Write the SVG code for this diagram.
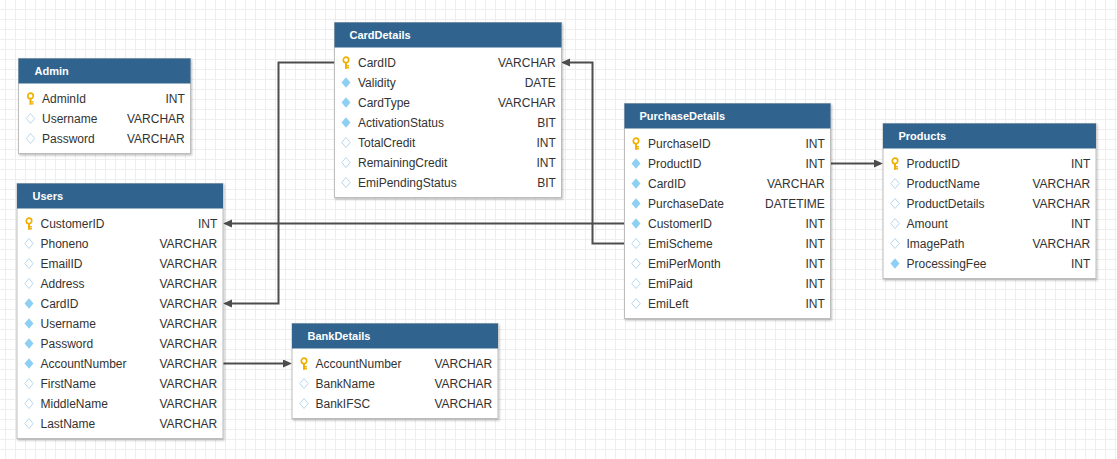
<svg xmlns="http://www.w3.org/2000/svg" xmlns:xlink="http://www.w3.org/1999/xlink" width="1117" height="459" viewBox="0 0 1117 459">
<style>
.hdr{fill:#30648f}
.box{fill:#ffffff;stroke:#bdbdbd;stroke-width:1}
.ttl{font-family:"Liberation Sans",Arial,sans-serif;font-size:11px;font-weight:bold;fill:#ffffff}
.f{font-family:"Liberation Sans",Arial,sans-serif;font-size:12px;fill:#333333}
.t{font-family:"Liberation Sans",Arial,sans-serif;font-size:12px;fill:#333333;text-anchor:end}
.conn{fill:none;stroke:#4d4d4d;stroke-width:2;marker-end:url(#arr)}
</style>
<defs>
<pattern id="grid" x="5" y="9" width="10" height="10" patternUnits="userSpaceOnUse">
<rect x="0" y="0" width="1" height="10" fill="#eeeeee"/>
<rect x="0" y="0" width="10" height="1" fill="#eeeeee"/>
</pattern>
<filter id="sh" x="-5%" y="-5%" width="112%" height="112%">
<feDropShadow dx="1" dy="1.5" stdDeviation="1" flood-color="#000" flood-opacity="0.25"/>
</filter>
<marker id="arr" markerUnits="userSpaceOnUse" markerWidth="10" markerHeight="10" refX="1" refY="4" orient="auto">
<path d="M0,0 L9,4 L0,8 Z" fill="#4d4d4d"/>
</marker>
<g id="key">
<circle cx="0" cy="-2.6" r="2.7" fill="none" stroke="#f0b000" stroke-width="1.7"/>
<rect x="-1" y="0" width="2" height="6.3" fill="#f0b000"/>
<rect x="1" y="2.6" width="2" height="1.4" fill="#f0b000"/>
<rect x="1" y="4.6" width="2" height="1.4" fill="#f0b000"/>
</g>
<path id="fk" d="M0,-5.3 L4.5,0 L0,5.3 L-4.5,0 Z" fill="#8dd0f4"/>
<path id="col" d="M0,-5 L4.2,0 L0,5 L-4.2,0 Z" fill="#ffffff" stroke="#b8d8ef" stroke-width="1"/>
</defs>
<rect x="0" y="0" width="1117" height="459" fill="#ffffff"/>
<rect x="0" y="0" width="1117" height="459" fill="url(#grid)"/>

<g id="connectors">
<path class="conn" d="M334,62.5 H278.5 V303.5 H231"/>
<path class="conn" d="M624,243.5 H592.5 V62.5 H569"/>
<path class="conn" d="M624,223.5 H231"/>
<path class="conn" d="M830,163.5 H875"/>
<path class="conn" d="M223,363.5 H284"/>
</g>

<g id="Admin">
<rect class="box" x="18.5" y="58.5" width="172" height="95" filter="url(#sh)"/>
<rect class="hdr" x="18.5" y="58.5" width="172" height="25"/>
<text class="ttl" x="34.5" y="75">Admin</text>
<use href="#key" x="30.5" y="98.5"/><text class="f" x="42" y="102.5">AdminId</text><text class="t" x="184.8" y="102.5">INT</text>
<use href="#col" x="30.5" y="118.5"/><text class="f" x="42" y="122.5">Username</text><text class="t" x="184.8" y="122.5">VARCHAR</text>
<use href="#col" x="30.5" y="138.5"/><text class="f" x="42" y="142.5">Password</text><text class="t" x="184.8" y="142.5">VARCHAR</text>
</g>

<g id="CardDetails">
<rect class="box" x="334.5" y="22.5" width="227" height="175" filter="url(#sh)"/>
<rect class="hdr" x="334.5" y="22.5" width="227" height="25"/>
<text class="ttl" x="349.5" y="39">CardDetails</text>
<use href="#key" x="346" y="62.5"/><text class="f" x="358" y="66.5">CardID</text><text class="t" x="555.8" y="66.5">VARCHAR</text>
<use href="#fk" x="346" y="82.5"/><text class="f" x="358" y="86.5">Validity</text><text class="t" x="555.8" y="86.5">DATE</text>
<use href="#fk" x="346" y="102.5"/><text class="f" x="358" y="106.5">CardType</text><text class="t" x="555.8" y="106.5">VARCHAR</text>
<use href="#fk" x="346" y="122.5"/><text class="f" x="358" y="126.5">ActivationStatus</text><text class="t" x="555.8" y="126.5">BIT</text>
<use href="#col" x="346" y="142.5"/><text class="f" x="358" y="146.5">TotalCredit</text><text class="t" x="555.8" y="146.5">INT</text>
<use href="#col" x="346" y="162.5"/><text class="f" x="358" y="166.5">RemainingCredit</text><text class="t" x="555.8" y="166.5">INT</text>
<use href="#col" x="346" y="182.5"/><text class="f" x="358" y="186.5">EmiPendingStatus</text><text class="t" x="555.8" y="186.5">BIT</text>
</g>

<g id="PurchaseDetails">
<rect class="box" x="624.5" y="103.5" width="206" height="215" filter="url(#sh)"/>
<rect class="hdr" x="624.5" y="103.5" width="206" height="25"/>
<text class="ttl" x="639.5" y="120">PurchaseDetails</text>
<use href="#key" x="636" y="143.5"/><text class="f" x="648" y="147.5">PurchaseID</text><text class="t" x="824.8" y="147.5">INT</text>
<use href="#fk" x="636" y="163.5"/><text class="f" x="648" y="167.5">ProductID</text><text class="t" x="824.8" y="167.5">INT</text>
<use href="#fk" x="636" y="183.5"/><text class="f" x="648" y="187.5">CardID</text><text class="t" x="824.8" y="187.5">VARCHAR</text>
<use href="#fk" x="636" y="203.5"/><text class="f" x="648" y="207.5">PurchaseDate</text><text class="t" x="824.8" y="207.5">DATETIME</text>
<use href="#fk" x="636" y="223.5"/><text class="f" x="648" y="227.5">CustomerID</text><text class="t" x="824.8" y="227.5">INT</text>
<use href="#col" x="636" y="243.5"/><text class="f" x="648" y="247.5">EmiScheme</text><text class="t" x="824.8" y="247.5">INT</text>
<use href="#col" x="636" y="263.5"/><text class="f" x="648" y="267.5">EmiPerMonth</text><text class="t" x="824.8" y="267.5">INT</text>
<use href="#col" x="636" y="283.5"/><text class="f" x="648" y="287.5">EmiPaid</text><text class="t" x="824.8" y="287.5">INT</text>
<use href="#col" x="636" y="303.5"/><text class="f" x="648" y="307.5">EmiLeft</text><text class="t" x="824.8" y="307.5">INT</text>
</g>

<g id="Products">
<rect class="box" x="883" y="123.5" width="213" height="155" filter="url(#sh)"/>
<rect class="hdr" x="883" y="123.5" width="213" height="25"/>
<text class="ttl" x="898.5" y="140">Products</text>
<use href="#key" x="895" y="163.5"/><text class="f" x="906.5" y="167.5">ProductID</text><text class="t" x="1090.3" y="167.5">INT</text>
<use href="#col" x="895" y="183.5"/><text class="f" x="906.5" y="187.5">ProductName</text><text class="t" x="1090.3" y="187.5">VARCHAR</text>
<use href="#col" x="895" y="203.5"/><text class="f" x="906.5" y="207.5">ProductDetails</text><text class="t" x="1090.3" y="207.5">VARCHAR</text>
<use href="#col" x="895" y="223.5"/><text class="f" x="906.5" y="227.5">Amount</text><text class="t" x="1090.3" y="227.5">INT</text>
<use href="#col" x="895" y="243.5"/><text class="f" x="906.5" y="247.5">ImagePath</text><text class="t" x="1090.3" y="247.5">VARCHAR</text>
<use href="#fk" x="895" y="263.5"/><text class="f" x="906.5" y="267.5">ProcessingFee</text><text class="t" x="1090.3" y="267.5">INT</text>
</g>

<g id="Users">
<rect class="box" x="17" y="183.5" width="206" height="255" filter="url(#sh)"/>
<rect class="hdr" x="17" y="183.5" width="206" height="25"/>
<text class="ttl" x="32.5" y="200">Users</text>
<use href="#key" x="29" y="223.5"/><text class="f" x="40.5" y="227.5">CustomerID</text><text class="t" x="217.3" y="227.5">INT</text>
<use href="#col" x="29" y="243.5"/><text class="f" x="40.5" y="247.5">Phoneno</text><text class="t" x="217.3" y="247.5">VARCHAR</text>
<use href="#col" x="29" y="263.5"/><text class="f" x="40.5" y="267.5">EmailID</text><text class="t" x="217.3" y="267.5">VARCHAR</text>
<use href="#col" x="29" y="283.5"/><text class="f" x="40.5" y="287.5">Address</text><text class="t" x="217.3" y="287.5">VARCHAR</text>
<use href="#fk" x="29" y="303.5"/><text class="f" x="40.5" y="307.5">CardID</text><text class="t" x="217.3" y="307.5">VARCHAR</text>
<use href="#fk" x="29" y="323.5"/><text class="f" x="40.5" y="327.5">Username</text><text class="t" x="217.3" y="327.5">VARCHAR</text>
<use href="#fk" x="29" y="343.5"/><text class="f" x="40.5" y="347.5">Password</text><text class="t" x="217.3" y="347.5">VARCHAR</text>
<use href="#fk" x="29" y="363.5"/><text class="f" x="40.5" y="367.5">AccountNumber</text><text class="t" x="217.3" y="367.5">VARCHAR</text>
<use href="#col" x="29" y="383.5"/><text class="f" x="40.5" y="387.5">FirstName</text><text class="t" x="217.3" y="387.5">VARCHAR</text>
<use href="#col" x="29" y="403.5"/><text class="f" x="40.5" y="407.5">MiddleName</text><text class="t" x="217.3" y="407.5">VARCHAR</text>
<use href="#col" x="29" y="423.5"/><text class="f" x="40.5" y="427.5">LastName</text><text class="t" x="217.3" y="427.5">VARCHAR</text>
</g>

<g id="BankDetails">
<rect class="box" x="292" y="323.5" width="206" height="95" filter="url(#sh)"/>
<rect class="hdr" x="292" y="323.5" width="206" height="25"/>
<text class="ttl" x="307.5" y="340">BankDetails</text>
<use href="#key" x="304" y="363.5"/><text class="f" x="315.5" y="367.5">AccountNumber</text><text class="t" x="492.3" y="367.5">VARCHAR</text>
<use href="#col" x="304" y="383.5"/><text class="f" x="315.5" y="387.5">BankName</text><text class="t" x="492.3" y="387.5">VARCHAR</text>
<use href="#col" x="304" y="403.5"/><text class="f" x="315.5" y="407.5">BankIFSC</text><text class="t" x="492.3" y="407.5">VARCHAR</text>
</g>
</svg>
